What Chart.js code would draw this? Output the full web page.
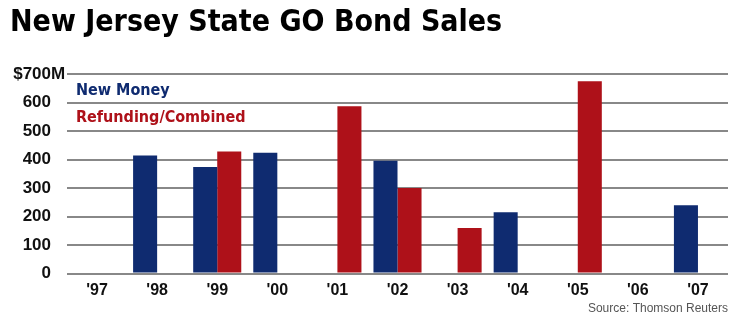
<!DOCTYPE html>
<html>
<head>
<meta charset="utf-8">
<script src="https://cdn.jsdelivr.net/npm/chart.js@4"></script>
<style>
  html, body { margin: 0; padding: 0; background: #fff; }
  #wrap { width: 740px; height: 324px; }
</style>
</head>
<body>
<div id="wrap"><canvas id="bondChart"></canvas></div>
<script>
// values in $ millions
const years = ["'97", "'98", "'99", "'00", "'01", "'02", "'03", "'04", "'05", "'06", "'07"];
const newMoney = [null, 414, 374, 424, null, 396, null, 215, null, null, 240];
const refunding = [null, null, 428, null, 587, 300, 160, null, 675, null, null];
const yMax = 700;
const yStep = 100;

const narrow = "'Liberation Sans Narrow', 'DejaVu Sans Condensed', 'Arial Narrow', sans-serif";
const plain = "'Liberation Sans', Arial, sans-serif";
const navy = '#0f2b70';
const red = '#ae1119';

// dataset names written in their colours inside the plot, like the original
const legendText = {
  id: 'legendText',
  afterDatasetsDraw(chart) {
    const { ctx, chartArea } = chart;
    ctx.save();
    ctx.font = 'bold 16px ' + narrow;
    ctx.textBaseline = 'middle';
    ctx.textAlign = 'left';
    chart.data.datasets.forEach((ds, i) => {
      ctx.fillStyle = ds.backgroundColor;
      ctx.fillText(ds.label, chartArea.left + 9, chartArea.top + 17 + i * 27);
    });
    ctx.restore();
  }
};

// the "M" of "$700M" hangs past the right edge of the other tick labels
const topUnit = {
  id: 'topUnit',
  afterDraw(chart) {
    const y = chart.scales.y;
    const { ctx } = chart;
    ctx.save();
    ctx.font = 'bold 17px ' + plain;
    ctx.fillStyle = '#111';
    ctx.textBaseline = 'middle';
    ctx.textAlign = 'left';
    ctx.fillText('M', y.right - 16, y.getPixelForValue(yMax));
    ctx.restore();
  }
};

new Chart(document.getElementById('bondChart'), {
  type: 'bar',
  data: {
    labels: years,
    datasets: [
      { label: 'New Money', data: newMoney, backgroundColor: navy },
      { label: 'Refunding/Combined', data: refunding, backgroundColor: red }
    ]
  },
  options: {
    responsive: true,
    maintainAspectRatio: false,
    animation: false,
    datasets: { bar: { categoryPercentage: 0.8, barPercentage: 1.0 } },
    layout: { padding: { left: 10, right: 12, top: 0, bottom: 4 } },
    plugins: {
      legend: { display: false },
      tooltip: { enabled: false },
      title: {
        display: true,
        text: 'New Jersey State GO Bond Sales',
        align: 'start',
        color: '#000',
        font: { family: narrow, size: 30, weight: 'bold', lineHeight: 1.2 },
        padding: { top: 5, bottom: 33 }
      },
      subtitle: {
        display: true,
        position: 'bottom',
        align: 'end',
        text: 'Source: Thomson Reuters',
        color: '#555',
        font: { family: plain, size: 12, lineHeight: 1.2 },
        padding: { top: 0, bottom: 4 }
      }
    },
    scales: {
      x: {
        grid: { display: false, drawTicks: false },
        border: { display: false },
        ticks: {
          color: '#111',
          padding: 7,
          font: { family: plain, size: 16, weight: 'bold' }
        },
        afterFit(scale) { scale.height = 28; }
      },
      y: {
        min: 0,
        max: yMax,
        border: { display: false },
        grid: { color: '#888', lineWidth: 2, drawTicks: false },
        ticks: {
          stepSize: yStep,
          padding: 16,
          color: '#111',
          font: { family: plain, size: 17, weight: 'bold' },
          callback: v => (v === yMax ? '$' + v : v)
        },
        afterFit(scale) { scale.width = 57; }
      }
    }
  },
  plugins: [legendText, topUnit]
});
</script>
</body>
</html>
